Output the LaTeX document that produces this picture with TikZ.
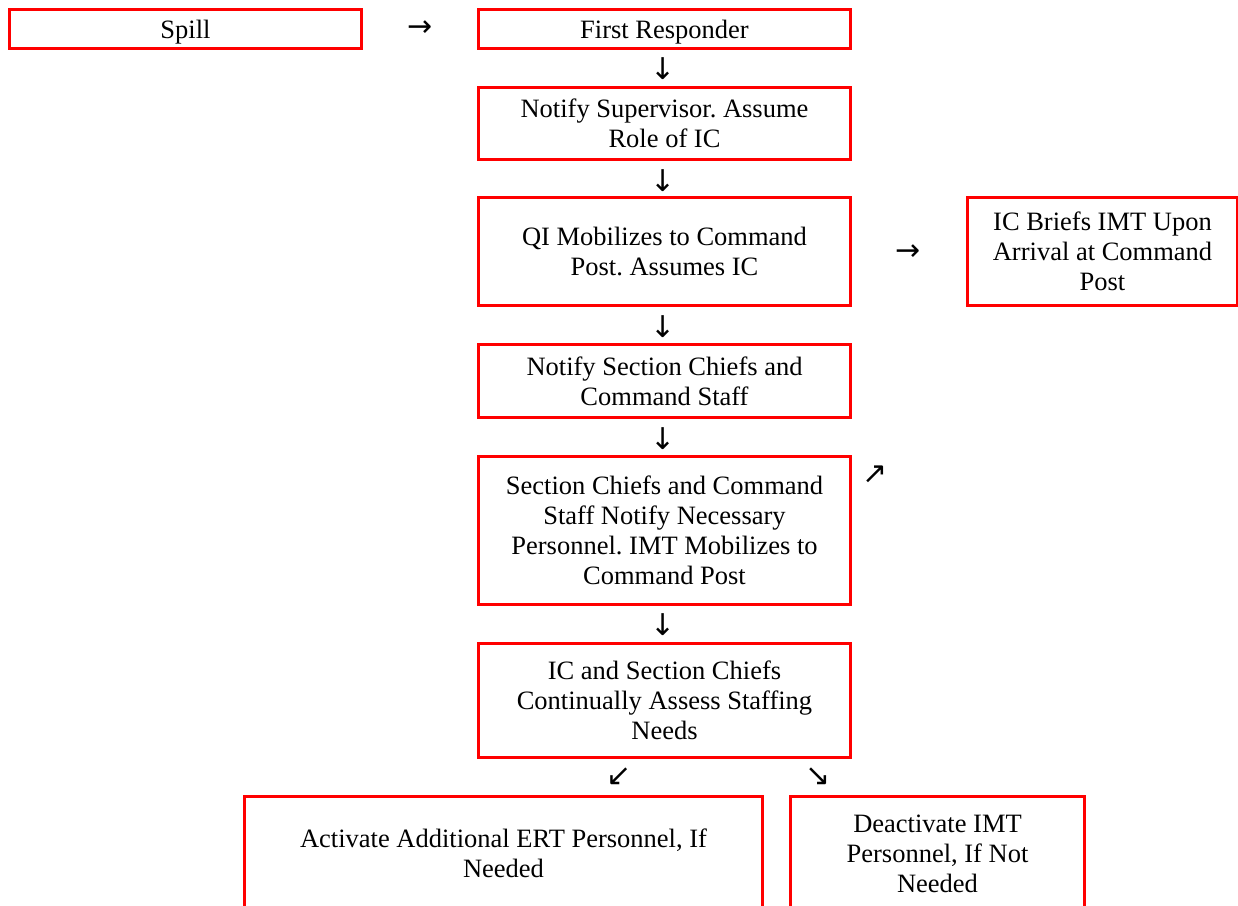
\documentclass[tikz,border=0pt]{standalone}
\usepackage{fontspec}
\setmainfont{Liberation Serif}
\newfontfamily\arrowfont{DejaVu Sans}
\frenchspacing
\begin{document}
\begin{tikzpicture}[x=1pt,y=-1pt,
  box/.style={draw=red, line width=3pt, inner sep=0pt, align=center,
    font=\fontsize{26.5}{30}\selectfont, anchor=north west},
  glyph/.style={font=\arrowfont\fontsize{30}{30}\selectfont, inner sep=0pt}]
\useasboundingbox (0,0) rectangle (1238,905);
\clip (0,0) rectangle (1238,905);
\node[box, minimum width=352pt, minimum height=39pt] (spill) at (8,8) {\raisebox{-3pt}[\height][\depth]{Spill}};
\node[box, minimum width=372pt, minimum height=39pt] (fr) at (477,8) {\raisebox{-3pt}[\height][\depth]{First Responder}};
\node[box, minimum width=372pt, minimum height=72pt] (ns) at (477,86) {Notify Supervisor. Assume\\Role of IC};
\node[box, minimum width=372pt, minimum height=108pt] (qi) at (477,196) {QI Mobilizes to Command\\Post. Assumes IC};
\node[box, minimum width=270pt, minimum height=108pt] (ic) at (966,196) {IC Briefs IMT Upon\\Arrival at Command\\Post};
\node[box, minimum width=372pt, minimum height=73pt] (nsc) at (477,343) {Notify Section Chiefs and\\Command Staff};
\node[box, minimum width=372pt, minimum height=148pt] (sc) at (477,455) {Section Chiefs and Command\\Staff Notify Necessary\\Personnel. IMT Mobilizes to\\Command Post};
\node[box, minimum width=372pt, minimum height=114pt] (ics) at (477,642) {IC and Section Chiefs\\Continually Assess Staffing\\Needs};
\node[box, minimum width=518pt, minimum height=113pt] (act) at (243,795) {Activate Additional ERT Personnel, If\\Needed};
\node[box, minimum width=294pt, minimum height=114pt] (deact) at (789,795) {Deactivate IMT\\Personnel, If Not\\Needed};
\node[glyph] (a1) at (420,29) {→};
\node[glyph] (a2) at (663,69) {↓};
\node[glyph] (a3) at (663,181) {↓};
\node[glyph] (a4) at (908,253) {→};
\node[glyph] (a5) at (663,327) {↓};
\node[glyph] (a6) at (663,439) {↓};
\node[glyph] (a7) at (875,475) {↗};
\node[glyph] (a8) at (663,625) {↓};
\node[glyph] (a9) at (619,777) {↙};
\node[glyph] (a10) at (818,777) {↘};
\end{tikzpicture}
\end{document}
